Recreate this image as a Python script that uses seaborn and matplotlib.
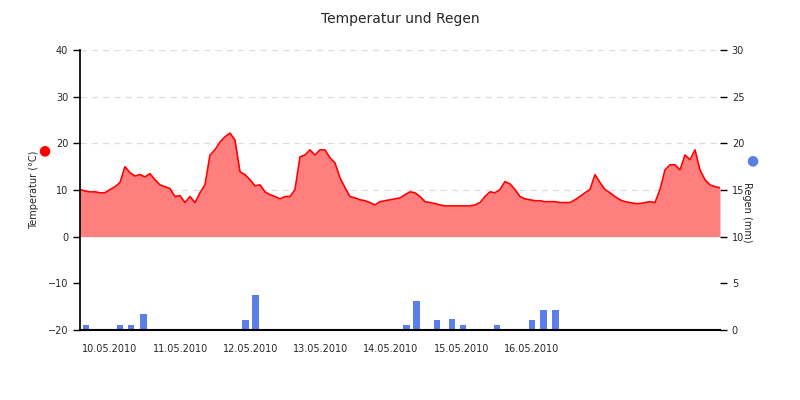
import numpy as np
import pandas as pd
import matplotlib
matplotlib.use("Agg")
import matplotlib.pyplot as plt
import seaborn as sns

# ---- data ----
temp = [10.1, 9.8, 9.6, 9.6, 9.4, 9.4, 10.1, 10.7, 11.6, 15.0, 13.7, 13.0, 13.3, 12.8, 13.5, 12.2,
        11.1, 10.7, 10.3, 8.6, 8.8, 7.3, 8.6, 7.3, 9.4, 11.1, 17.5, 18.6, 20.3, 21.4, 22.2, 20.7,
        13.9, 13.3, 12.2, 10.9, 11.1, 9.6, 9.0, 8.6, 8.1, 8.6, 8.6, 10.1, 17.1, 17.5, 18.6, 17.5,
        18.6, 18.6, 16.9, 15.8, 12.6, 10.5, 8.6, 8.3, 7.9, 7.7, 7.3, 6.8, 7.5, 7.7, 7.9, 8.1,
        8.3, 9.0, 9.6, 9.4, 8.6, 7.5, 7.3, 7.1, 6.8, 6.6, 6.6, 6.6, 6.6, 6.6, 6.6, 6.8,
        7.3, 8.6, 9.6, 9.4, 10.1, 11.8, 11.3, 10.1, 8.6, 8.1, 7.9, 7.7, 7.7, 7.5, 7.5, 7.5,
        7.3, 7.3, 7.3, 7.9, 8.6, 9.4, 10.1, 13.3, 11.6, 10.1, 9.4, 8.6, 7.9, 7.5, 7.3, 7.1,
        7.1, 7.3, 7.5, 7.3, 10.1, 14.3, 15.4, 15.4, 14.3, 17.5, 16.5, 18.6, 14.3, 12.2, 11.1, 10.7,
        10.5]
# samples every ~1.7 h, time in days from axis start
step_days = 5 / 70.3
t_days = np.arange(len(temp)) * step_days

rain_days = [0.085, 0.57, 0.725, 0.90, 2.35, 2.50, 4.64, 4.79, 5.08, 5.29, 5.45, 5.93, 6.43, 6.59, 6.76]
rain_mm = [0.5, 0.5, 0.5, 1.7, 1.1, 3.75, 0.5, 3.1, 1.1, 1.2, 0.5, 0.5, 1.1, 2.1, 2.1]

day_labels = ["10.05.2010", "11.05.2010", "12.05.2010", "13.05.2010",
              "14.05.2010", "15.05.2010", "16.05.2010"]
day_start = 0.925  # first day boundary tick

df = pd.DataFrame({"t": t_days, "temp": temp})

sns.set_theme(style="white")
plt.rcParams["font.family"] = ["DejaVu Sans"]

fig = plt.figure(figsize=(8, 4), dpi=100)
ax = fig.add_axes([0.1, 0.175, 0.8, 0.7])
ax2 = ax.twinx()

# rain on right axis, drawn beneath temperature
ax2.bar(rain_days, rain_mm, width=0.095, color="#5b7fe8", lw=0, zorder=2)
ax2.plot([0, t_days[-1]], [0.05, 0.05], color="#5b7fe8", lw=2, zorder=2)
ax2.set_ylim(0, 30)
ax2.set_yticks(range(0, 31, 5))

ax.set_zorder(ax2.get_zorder() + 1)
ax.patch.set_visible(False)
ax.fill_between(df["t"], 0, df["temp"], color="#ff7f7f", lw=0)
sns.lineplot(data=df, x="t", y="temp", ax=ax, color="red", lw=1.2)
ax.set_ylim(-20, 40)
ax.set_xlim(0, t_days[-1])
ax.set_yticks(range(-20, 41, 10))
for y in [10, 20, 30, 40]:
    ax2.axhline(y / 2 + 10, color="#dddddd", ls=(0, (5, 4)), lw=0.9, zorder=0)

# x ticks at day boundaries, labels centered in each day
ax.set_xticks([day_start + k for k in range(7)])
ax.set_xticklabels([])
ax.set_xticks([day_start - 0.5 + k for k in range(7)], minor=True)
ax.set_xticklabels(day_labels, minor=True, fontsize=7)
ax.tick_params(axis="x", which="minor", length=0, pad=10)
ax.tick_params(axis="x", which="major", length=5, width=1, color="black", direction="out")
ax.tick_params(axis="y", length=5, width=1, color="black", labelsize=7, direction="out", left=True)
ax2.tick_params(axis="y", length=5, width=1, color="black", labelsize=7, direction="out", right=True)
ax.set_xlabel("")
ax.set_ylabel("Temperatur (°C)", fontsize=7, labelpad=6)
ax2.set_ylabel("Regen (mm)", fontsize=7, rotation=270, labelpad=10)
ax2.yaxis.set_label_coords(1.05, 0.42)

for a in (ax, ax2):
    for s in ["top", "right", "left", "bottom"]:
        a.spines[s].set_visible(False)
ax.spines["left"].set_visible(True)
ax.spines["bottom"].set_visible(True)
ax.spines["left"].set_color("black")
ax.spines["bottom"].set_color("black")
ax.spines["bottom"].set_linewidth(1.5)

fig.text(0.055, 0.625, "●", color="red", fontsize=10, ha="center", va="center")
fig.text(0.94, 0.6, "●", color="#5b7fe8", fontsize=10, ha="center", va="center")
fig.suptitle("Temperatur und Regen", y=0.97, fontsize=10)

fig.savefig("out.png", dpi=100)
